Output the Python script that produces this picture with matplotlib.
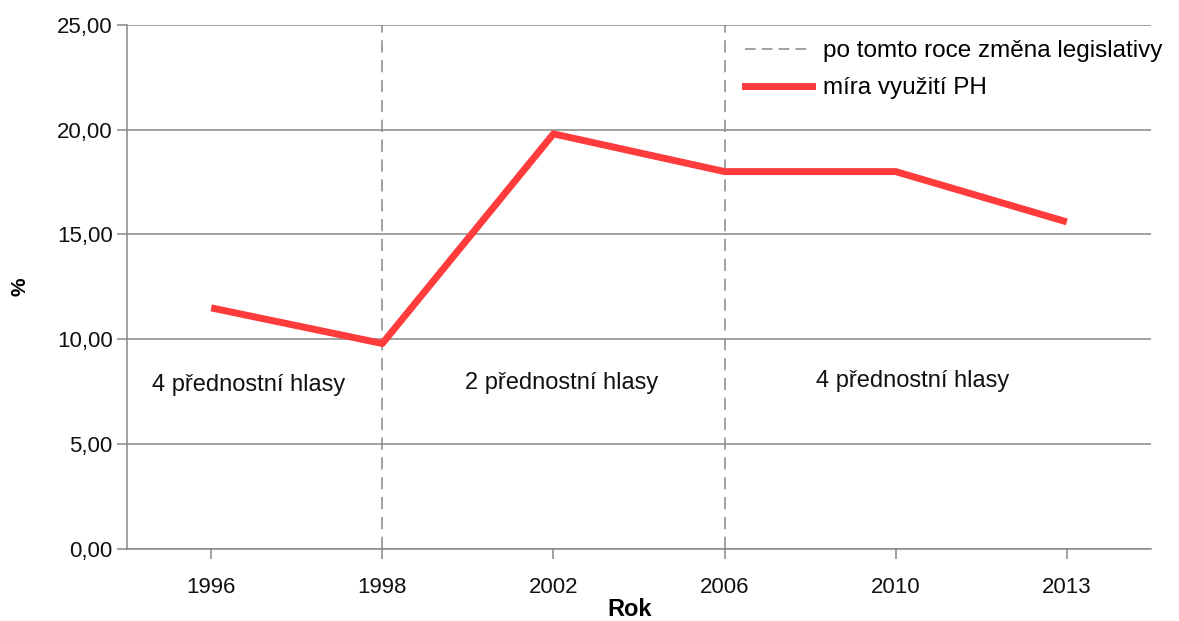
import matplotlib
matplotlib.use("Agg")
import matplotlib.pyplot as plt
from matplotlib.lines import Line2D
from matplotlib.ticker import FuncFormatter

plt.rcParams['font.family'] = ['Liberation Sans', 'DejaVu Sans']

years = ["1996", "1998", "2002", "2006", "2010", "2013"]
mira = [11.5, 9.8, 19.8, 18.0, 18.0, 15.6]
zmena = ["1998", "2006"]
obdobi = ["4 přednostní hlasy", "2 přednostní hlasy", "4 přednostní hlasy"]
obdobi_x = [0.22, 2.05, 4.1]
obdobi_y = [7.8, 7.9, 8.0]

fig = plt.figure(figsize=(11.79, 6.21), dpi=100)
ax = fig.add_axes([0.108, 0.116, 0.868, 0.844])

x = list(range(len(years)))
ax.plot(x, mira, color='#ff3b3b', lw=5, solid_capstyle='butt', zorder=3)
for z in zmena:
    ax.axvline(years.index(z), color='#888888', lw=1.1, ls=(0, (8, 5)), zorder=2)

for t, tx, ty in zip(obdobi, obdobi_x, obdobi_y):
    ax.text(tx, ty, t, ha='center', va='center', fontsize=17, color='#111111')

ax.set_xlim(-0.49, 5.49)
ax.set_ylim(0, 25)
ax.set_xticks(x)
ax.set_xticklabels(years)
ax.set_yticks([0, 5, 10, 15, 20, 25])
ax.yaxis.set_major_formatter(FuncFormatter(lambda v, p: f"{v:.2f}".replace('.', ',')))
ax.grid(axis='y', color='#888888', lw=1.1)
ax.set_axisbelow(True)
for s in ['top', 'right']:
    ax.spines[s].set_visible(False)
for s in ['left', 'bottom']:
    ax.spines[s].set_color('#888888')
    ax.spines[s].set_linewidth(1.1)
ax.tick_params(axis='both', colors='#888888', length=7, width=1.1, labelsize=16,
               labelcolor='#111111')
ax.tick_params(axis='x', pad=13)

ax.set_ylabel('%', fontsize=15, fontweight='bold', labelpad=20)
fig.text(0.534, 0.018, 'Rok', ha='center', va='center', fontsize=17, fontweight='bold')

handles = [Line2D([], [], color='#888888', lw=1.1, ls=(0, (7, 4))),
           Line2D([], [], color='#ff3b3b', lw=5)]
fig.legend(handles, ['po tomto roce změna legislativy', 'míra využití PH'],
           loc='upper left', bbox_to_anchor=(0.622, 0.955), frameon=False, fontsize=17.5,
           borderpad=0, handlelength=2.75, handletextpad=0.42, labelspacing=0.62)

fig.savefig('out.png', dpi=100)
